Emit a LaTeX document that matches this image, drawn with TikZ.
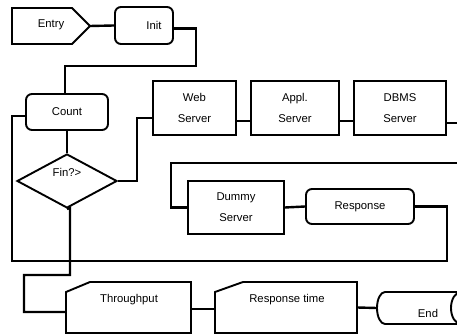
\documentclass[tikz,border=0pt]{standalone}
\usepackage{fontspec}
\setmainfont{Liberation Sans}
\usetikzlibrary{shapes.geometric,calc}
\begin{document}
\begin{tikzpicture}[x=1pt,y=-1pt,
  every node/.style={inner sep=0pt,font=\fontsize{11.3}{21}\selectfont},
  shapeline/.style={line width=1.9pt,line join=miter},
  sbox/.style={shapeline,draw,rectangle,align=center},
  rbox/.style={shapeline,draw,rectangle,rounded corners=6pt},
  ghost/.style={rectangle},
  conn/.style={line width=2.4pt}]
\clip (0,0) rectangle (457,336);
\useasboundingbox (0,0) rectangle (457,336);
\fill[white] (0,0) rectangle (457,336);
% Entry
\draw[shapeline] (12,8) -- (72,8) -- (90,26) -- (72,44) -- (12,44) -- cycle;
\node (entry) at (51,25) {Entry};
\coordinate (entrytip) at (90,26);
% Init
\node[rbox,minimum width=58pt,minimum height=37pt] (init) at (144,25.5) {};
\node (initlabel) at (154,25) {Init};
% Count
\node[rbox,minimum width=82pt,minimum height=36pt] (count) at (67,112) {Count};
% Fin?>
\node[diamond,shapeline,draw,minimum width=100pt,minimum height=54pt] (fin) at (67,181) {};
\node (finlabel) at (67,172) {Fin?>};
% Servers
\node[sbox,minimum width=83pt,minimum height=54pt] (web) at (194.5,108) {Web\\Server};
\node[sbox,minimum width=88pt,minimum height=54pt] (appl) at (295,108) {Appl.\\Server};
\node[sbox,minimum width=92pt,minimum height=54pt] (dbms) at (400,108) {DBMS\\Server};
\node[sbox,minimum width=96pt,minimum height=53pt] (dummy) at (236,207.5) {Dummy\\Server};
\node[rbox,minimum width=108pt,minimum height=35pt] (resp) at (360,206.5) {Response};
% Throughput
\node[ghost,minimum width=125pt,minimum height=51pt] (thr) at (128.5,307.5) {};
\draw[shapeline] (90,282) -- (191,282) -- (191,333) -- (66,333) -- (66,292) -- cycle;
\node (thrlabel) at (129,300) {Throughput};
% Response time
\node[ghost,minimum width=142pt,minimum height=51pt] (rt) at (286,307.5) {};
\draw[shapeline] (243,282) -- (357,282) -- (357,333) -- (215,333) -- (215,292) -- cycle;
\node (rtlabel) at (287,300) {Response time};
% End
\node[ghost,minimum width=84pt,minimum height=32pt] (endn) at (419,308) {};
\draw[shapeline] (470,292) -- (385,292) arc[start angle=270,end angle=90,x radius=8,y radius=16] -- (470,324);
\draw[shapeline] (461,308) ellipse[x radius=10,y radius=16];
\node (endlabel) at (428,313) {End};
% free ends
\coordinate (rout) at (462,123);
\coordinate (rin) at (462,163);
% connectors
\draw[conn] (entrytip) -- (init.west);
\draw[conn] ($(init.east)+(0,3)$) -- (196,28.5) -- (196,66) -- (65,66) -- (65,94);
\draw[conn] (count.south) -- (fin.north);
\draw[conn] (fin.east) -- (137,181) -- (137,118) -- ($(web.west)+(0,10)$);
\draw[conn] ($(web.east)+(0,13)$) -- ($(appl.west)+(0,13)$);
\draw[conn] ($(appl.east)+(0,13)$) -- ($(dbms.west)+(0,13)$);
\draw[conn] ($(dbms.east)+(0,15)$) -- (rout);
\draw[conn] (rin) -- (171,163) |- (dummy.west);
\draw[conn] (dummy.east) -- (resp.west);
\draw[conn] (resp.east) -- (447,206.5) -- (447,261) -- (12,261) -- (12,116) -- ($(count.west)+(0,4)$);
\draw[conn] (fin.south) -- (70,208) -- (70,275) -- (24,275) -- (24,312) -- ($(thr.west)+(0,4.5)$);
\draw[conn] ($(thr.east)+(0,1.5)$) -- ($(rt.west)+(0,1.5)$);
\draw[conn] (rt.east) -- (endn.west);
\end{tikzpicture}
\end{document}
